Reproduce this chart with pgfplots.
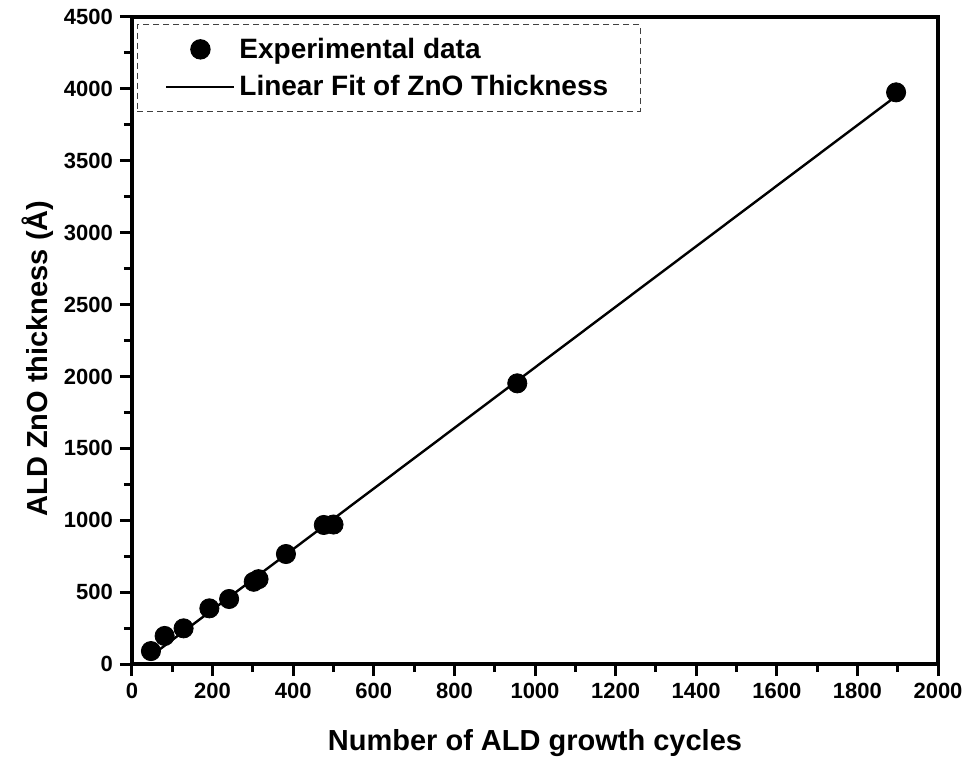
\documentclass[border=0pt]{standalone}
\usepackage{pgfplots}
\pgfplotsset{compat=1.18}
\usepackage{fontspec}
\setmainfont{Liberation Sans}
\pgfplotsset{
  ptleg/.style={legend image code/.code={\draw[##1] plot coordinates {(17pt,0pt)};}},
  lnleg/.style={legend image code/.code={\draw[##1, line width=1pt] (0pt,0pt) -- (34pt,0pt);}},
}
\begin{document}
\begin{tikzpicture}
\begin{axis}[
  scale only axis,
  width=403pt, height=323.5pt,
  xmin=0, xmax=2000, ymin=0, ymax=4500,
  xtick={0,200,...,2000}, ytick={0,500,...,4500},
  minor x tick num=1, minor y tick num=1,
  tick align=outside,
  xtick pos=bottom, ytick pos=left,
  major tick length=6pt, minor tick length=4pt,
  every tick/.style={line width=1.5pt, black},
  axis line style={line width=1.8pt},
  /pgf/number format/assume math mode=true,
  /pgf/number format/1000 sep={},
  tick label style={font=\fontsize{11}{13}\selectfont\bfseries},
  xlabel={Number of ALD growth cycles},
  ylabel={ALD ZnO thickness (Å)},
  label style={font=\fontsize{14.5}{17}\selectfont\bfseries},
  xlabel style={at={([yshift=-43pt]axis description cs:0.5,0)}, anchor=base},
  ylabel style={at={([xshift=-42pt]axis description cs:0,0.472)}, anchor=base},
  legend style={at={(0.006,0.989)}, anchor=north west, draw=black!75, densely dashed, line width=0.6pt,
    font=\fontsize{14}{16}\selectfont\bfseries, row sep=3pt, inner xsep=14pt, inner ysep=4.5pt,
    /tikz/every even column/.append style={column sep=3pt}},
  legend cell align=left,
]
\coordinate (ll) at (rel axis cs:0,0);
\coordinate (ur) at (rel axis cs:1,1);
\addplot[only marks, mark=*, mark size=4.8pt, black, ptleg]
coordinates {(47,90)(81,195)(128,248)(192,387)(241,452)(302,572)(314,590)(382,765)(476,967)(500,970)(956,1952)(1896,3976)};
\addlegendentry{Experimental data}
\addplot[black, line width=1.2pt, solid, lnleg]
coordinates {(40,41)(1900,3958)};
\addlegendentry{Linear Fit of ZnO Thickness}
\end{axis}
\pgfresetboundingbox
\path (ll) ++(-66pt,-48.5pt) coordinate (a);
\path (ur) ++(15pt,8.5pt) coordinate (b);
\useasboundingbox (a) rectangle (b);
\end{tikzpicture}
\end{document}
